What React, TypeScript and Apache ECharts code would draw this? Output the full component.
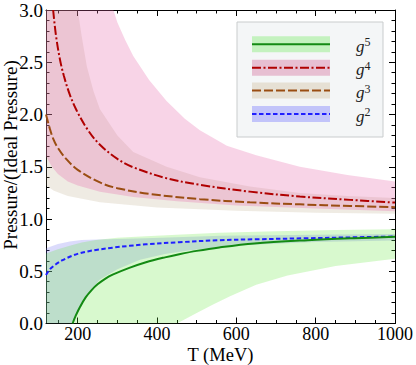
import { useEffect, useRef } from 'react';
import * as echarts from 'echarts';

// ---------- data ----------
// x axis ticks
const X_MAJOR = [200, 400, 600, 800, 1000];
const X_MINOR = [150, 250, 300, 350, 450, 500, 550, 650, 700, 750, 850, 900, 950];

// g^2 (blue dashed)
const g2T = [120, 130, 145, 160, 170, 185, 204, 225, 246, 288, 330, 372, 456, 557, 650, 780, 900, 1000];
const g2V = [0.465, 0.52, 0.567, 0.603, 0.622, 0.647, 0.672, 0.69, 0.704, 0.726, 0.743, 0.758, 0.778, 0.797, 0.806, 0.816, 0.825, 0.832];
// g^5 (green solid)
const g5T = [187, 195, 206, 220, 235, 250, 270, 288, 330, 372, 420, 456, 500, 557, 645, 780, 897, 1000];
const g5V = [0, 0.075, 0.16, 0.25, 0.32, 0.375, 0.43, 0.467, 0.532, 0.586, 0.633, 0.663, 0.695, 0.728, 0.766, 0.797, 0.816, 0.829];
// g^4 (red dash-dot)
const g4T = [138, 145, 155, 165, 180, 197, 225, 256, 300, 340, 424, 508, 634, 760, 887, 1000];
const g4V = [3.0, 2.76, 2.53, 2.37, 2.19, 2.04, 1.855, 1.71, 1.575, 1.495, 1.39, 1.327, 1.262, 1.215, 1.183, 1.157];
// g^3 (brown long dash)
const g3T = [120, 130, 138, 150, 172, 200, 256, 300, 382, 508, 634, 760, 887, 1000];
const g3V = [2.0, 1.86, 1.77, 1.68, 1.57, 1.47, 1.35, 1.295, 1.24, 1.19, 1.16, 1.14, 1.125, 1.113];

// bands (upper / lower edges)
const g4UpT = [120, 290, 300, 320, 340, 380, 424, 470, 508, 576, 650, 760, 880, 1000];
const g4UpV = [3.0, 3.0, 2.88, 2.71, 2.56, 2.33, 2.13, 1.96, 1.85, 1.7, 1.61, 1.5, 1.42, 1.36];
const g4LoT = [120, 135, 150, 175, 200, 256, 340, 450, 600, 800, 1000];
const g4LoV = [1.6, 1.5, 1.43, 1.36, 1.32, 1.26, 1.21, 1.17, 1.13, 1.1, 1.075];

const g3UpT = [120, 200, 210, 223, 240, 256, 300, 340, 424, 508, 634, 760, 880, 1000];
const g3UpV = [3.0, 3.0, 2.75, 2.46, 2.22, 2.05, 1.8, 1.64, 1.5, 1.4, 1.31, 1.25, 1.22, 1.2];
const g3LoT = [120, 140, 175, 256, 400, 600, 800, 1000];
const g3LoV = [1.32, 1.27, 1.22, 1.16, 1.11, 1.08, 1.06, 1.05];

const g5UpT = [120, 150, 180, 210, 246, 300, 372, 450, 557, 700, 850, 1000];
const g5UpV = [0.67, 0.71, 0.745, 0.775, 0.8, 0.82, 0.835, 0.85, 0.868, 0.882, 0.894, 0.903];
const g5LoT = [120, 450, 475, 500, 540, 584, 650, 729, 850, 1000];
const g5LoV = [0, 0, 0.05, 0.1, 0.18, 0.26, 0.37, 0.46, 0.55, 0.62];

const g2UpT = [120, 150, 180, 210, 250, 372, 561, 800, 1000];
const g2UpV = [0.72, 0.76, 0.785, 0.8, 0.805, 0.815, 0.84, 0.85, 0.857];
const g2LoT = [120, 185, 200, 214, 235, 256, 300, 357, 420, 483, 609, 800, 1000];
const g2LoV = [0, 0, 0.12, 0.22, 0.33, 0.42, 0.52, 0.61, 0.665, 0.7, 0.75, 0.78, 0.795];

const LEGEND_SUPS = ['5', '4', '3', '2'];

// ---------- styles ----------
const FONT = "'Liberation Serif', 'Times New Roman', serif";
const GREEN = '#138a13';
const RED = '#b00000';
const BROWN = '#9a4d12';
const BLUE = '#1f1fff';
const DASH_RED = [9, 2.5, 2, 2.5];
const DASH_BROWN = [9, 3];
const DASH_BLUE = [4.5, 2.5];
const BAND_PINK = 'rgba(230,100,170,0.28)';
const BAND_BEIGE = 'rgba(175,155,115,0.2)';
const BAND_GREEN = 'rgba(100,230,60,0.25)';
const BAND_BLUE = 'rgba(110,110,240,0.25)';

const zip = (t: number[], v: number[]) => t.map((x, i) => [x, v[i]]);

const band = (upT: number[], upV: number[], loT: number[], loV: number[], color: string, z: number) => ({
  type: 'custom',
  coordinateSystem: 'cartesian2d',
  xAxisIndex: 0,
  yAxisIndex: 0,
  clip: true,
  silent: true,
  z,
  data: [[560, 1.5]],
  renderItem: (_params: any, api: any) => {
    const pts: number[][] = [];
    for (let i = 0; i < upT.length; i++) pts.push(api.coord([upT[i], upV[i]]));
    for (let i = loT.length - 1; i >= 0; i--) pts.push(api.coord([loT[i], loV[i]]));
    return { type: 'polygon', shape: { points: pts }, style: { fill: color } };
  },
});

const line = (t: number[], v: number[], color: string, type: any) => ({
  type: 'line',
  xAxisIndex: 0,
  yAxisIndex: 0,
  data: zip(t, v),
  showSymbol: false,
  smooth: 0.35,
  clip: true,
  silent: true,
  z: 5,
  lineStyle: { color, width: 2, type },
});

const axisLineStyle = { show: true, lineStyle: { color: '#000', width: 1 } };
const xBase = {
  type: 'value',
  min: 120,
  max: 1000,
  splitLine: { show: false },
};

const legendRows = [
  { sup: LEGEND_SUPS[0], sw: '#c4f2bf', color: GREEN, dash: null as any },
  { sup: LEGEND_SUPS[1], sw: '#e7bfd2', color: RED, dash: DASH_RED },
  { sup: LEGEND_SUPS[2], sw: '#e6e0d4', color: BROWN, dash: DASH_BROWN },
  { sup: LEGEND_SUPS[3], sw: '#c2c4fa', color: BLUE, dash: DASH_BLUE },
];
const ROW_Y = [44.3, 67.7, 90.6, 114];

const legendGraphic = {
  type: 'group',
  z: 100,
  children: [
    {
      type: 'rect',
      shape: { x: 237, y: 22, width: 146, height: 115 },
      style: { fill: '#f4f6f7', stroke: '#c9cccd', lineWidth: 1 },
    },
    ...legendRows.flatMap((r, i) => [
      {
        type: 'rect',
        shape: { x: 252, y: ROW_Y[i] - 8, width: 78, height: 16 },
        style: { fill: r.sw },
      },
      {
        type: 'line',
        shape: { x1: 252, y1: ROW_Y[i], x2: 330, y2: ROW_Y[i] },
        style: { stroke: r.color, lineWidth: 2, lineDash: r.dash || undefined },
      },
      {
        type: 'text',
        x: 356,
        y: ROW_Y[i] + 2,
        style: {
          text: '{g|g}{s|' + r.sup + '}',
          verticalAlign: 'middle',
          align: 'left',
          rich: {
            g: { fontFamily: FONT, fontStyle: 'italic', fontSize: 17, lineHeight: 20, fill: '#222' },
            s: { fontFamily: FONT, fontSize: 12, lineHeight: 12, verticalAlign: 'top', fill: '#222' },
          },
        },
      },
    ]),
  ],
};

const option = {
  animation: false,
  grid: { left: 46, right: 21, top: 10, bottom: 41.5, outerBoundsMode: 'none' },
  xAxis: [
    {
      ...xBase,
      position: 'bottom',
      name: 'T (MeV)',
      nameLocation: 'middle',
      nameGap: 22,
      nameMoveOverlap: false,
      nameTextStyle: { fontFamily: FONT, fontSize: 18.5, lineHeight: 18, color: '#000' },
      axisLine: axisLineStyle,
      axisTick: { show: true, inside: true, length: 6, customValues: X_MAJOR, lineStyle: { color: '#000' } },
      axisLabel: {
        customValues: X_MAJOR,
        formatter: (v: number) => String(v),
        fontFamily: FONT,
        fontSize: 18,
        lineHeight: 18,
        color: '#000',
        margin: 1.5,
      },
    },
    {
      ...xBase,
      position: 'bottom',
      axisLine: { show: false },
      axisTick: { show: true, inside: true, length: 3.5, customValues: X_MINOR, lineStyle: { color: '#000' } },
      axisLabel: { show: false },
    },
    {
      ...xBase,
      position: 'top',
      axisLine: axisLineStyle,
      axisTick: { show: true, inside: true, length: 6, customValues: X_MAJOR, lineStyle: { color: '#000' } },
      axisLabel: { show: false },
    },
    {
      ...xBase,
      position: 'top',
      axisLine: { show: false },
      axisTick: { show: true, inside: true, length: 3.5, customValues: X_MINOR, lineStyle: { color: '#000' } },
      axisLabel: { show: false },
    },
  ],
  yAxis: [
    {
      type: 'value',
      min: 0,
      max: 3,
      interval: 0.5,
      position: 'left',
      axisLine: axisLineStyle,
      axisTick: { show: true, inside: true, length: 6, lineStyle: { color: '#000' } },
      minorTick: { show: true, splitNumber: 5, length: 3.5, lineStyle: { color: '#000' } },
      splitLine: { show: false },
      minorSplitLine: { show: false },
      axisLabel: {
        formatter: (v: number) => v.toFixed(1),
        fontFamily: FONT,
        fontSize: 19,
        color: '#000',
        margin: 3,
      },
    },
    {
      type: 'value',
      min: 0,
      max: 3,
      interval: 0.5,
      position: 'right',
      axisLine: axisLineStyle,
      axisTick: { show: true, inside: true, length: 6, lineStyle: { color: '#000' } },
      minorTick: { show: true, splitNumber: 5, length: 3.5, lineStyle: { color: '#000' } },
      splitLine: { show: false },
      minorSplitLine: { show: false },
      axisLabel: { show: false },
    },
  ],
  series: [
    band(g3UpT, g3UpV, g3LoT, g3LoV, BAND_BEIGE, 1),
    band(g4UpT, g4UpV, g4LoT, g4LoV, BAND_PINK, 2),
    band(g2UpT, g2UpV, g2LoT, g2LoV, BAND_BLUE, 1),
    band(g5UpT, g5UpV, g5LoT, g5LoV, BAND_GREEN, 2),
    line(g3T, g3V, BROWN, DASH_BROWN),
    line(g4T, g4V, RED, DASH_RED),
    line(g2T, g2V, BLUE, DASH_BLUE),
    line(g5T, g5V, GREEN, 'solid'),
  ],
  graphic: [
    {
      type: 'text',
      x: 10,
      y: 155,
      rotation: Math.PI / 2,
      style: {
        text: 'Pressure/(Ideal Pressure)',
        fontFamily: FONT,
        fontSize: 19,
        fill: '#000',
        align: 'center',
        verticalAlign: 'middle',
      },
    },
    legendGraphic,
  ],
};

export default function App() {
  const ref = useRef<HTMLDivElement>(null);
  useEffect(() => {
    const chart = echarts.init(ref.current!, null, { renderer: 'svg' });
    chart.setOption(option as any);
    return () => chart.dispose();
  }, []);
  return (
    <div
      ref={ref}
      style={{ position: 'absolute', left: 0, top: 0, width: 416, height: 365 }}
    />
  );
}
